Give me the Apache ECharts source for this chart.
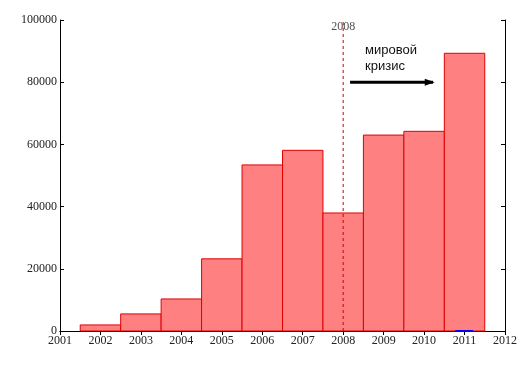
<!DOCTYPE html>
<html>
<head>
<meta charset="utf-8">
<script src="https://cdn.jsdelivr.net/npm/echarts@6/dist/echarts.min.js"></script>
<style>html,body{margin:0;padding:0;background:#fff}#c{width:530px;height:367px}</style>
</head>
<body>
<div id="c"></div>
<script>
const years = [2002, 2003, 2004, 2005, 2006, 2007, 2008, 2009, 2010, 2011];
const values = [1950, 5500, 10300, 23200, 53400, 58100, 37950, 63000, 64200, 89300];
const crisisYear = 2008;
const crisisLabel = '2008';
const crisisText = 'мировой\nкризис';
const arrowX = [2008.17, 2010.22];
const arrowY = 80000;
const blueX = [2010.77, 2011.21];

const chart = echarts.init(document.getElementById('c'), null, {renderer: 'canvas'});
const serif = 'Liberation Serif';
const plain = v => String(v);
const axisCommon = {
  min: 2001, max: 2012, interval: 1, type: 'value',
  axisLine: {show: true, lineStyle: {color: '#000', width: 1}},
  splitLine: {show: false}
};
const yCommon = {
  type: 'value', min: 0, max: 100000, interval: 20000,
  axisLine: {show: true, lineStyle: {color: '#000', width: 1}},
  splitLine: {show: false}
};
chart.setOption({
  animation: false,
  grid: {left: 60, right: 25, top: 20, bottom: 36},
  xAxis: [
    Object.assign({}, axisCommon, {
      position: 'bottom',
      axisTick: {show: false},
      axisLabel: {color: '#222', fontFamily: serif, fontSize: 12, margin: 4, formatter: plain}
    }),
    Object.assign({}, axisCommon, {
      position: 'top',
      axisTick: {show: true, inside: true, length: 4, lineStyle: {color: '#000'}},
      axisLabel: {show: false}
    })
  ],
  yAxis: [
    Object.assign({}, yCommon, {
      position: 'left',
      axisTick: {show: true, inside: true, length: 4, lineStyle: {color: '#000'}},
      axisLabel: {color: '#222', fontFamily: serif, fontSize: 12, margin: 3, formatter: plain}
    }),
    Object.assign({}, yCommon, {
      position: 'right',
      axisTick: {show: true, inside: true, length: 4, lineStyle: {color: '#000'}},
      axisLabel: {show: false}
    })
  ],
  series: [
    {
      type: 'custom',
      data: years.map((y, i) => [y, values[i]]),
      renderItem: function (params, api) {
        const p0 = api.coord([api.value(0) - 0.5, api.value(1)]);
        const p1 = api.coord([api.value(0) + 0.5, 0]);
        return {
          type: 'rect',
          shape: {x: p0[0], y: p0[1], width: p1[0] - p0[0], height: p1[1] - p0[1]},
          style: {fill: '#ff8080', stroke: '#e00000', lineWidth: 1}
        };
      }
    },
    {
      type: 'line',
      data: [[crisisYear, 0], [crisisYear, 100000]],
      symbol: 'none',
      lineStyle: {color: '#cc0000', type: [3, 3], width: 1},
      z: 4
    },
    {
      type: 'line',
      data: [[arrowX[0], arrowY], [arrowX[1], arrowY]],
      symbol: 'none',
      lineStyle: {color: '#000', width: 3},
      markPoint: {
        symbol: 'triangle', symbolSize: [7, 10], symbolRotate: -90,
        itemStyle: {color: '#000'}, label: {show: false},
        data: [{coord: [arrowX[1] - 0.08, arrowY]}]
      },
      z: 5
    },
    {
      type: 'line',
      data: [[blueX[0], 0], [blueX[1], 0]],
      symbol: 'none',
      lineStyle: {color: '#0000ff', width: 2},
      z: 6
    },
    {
      type: 'scatter',
      data: [[crisisYear, 97700]],
      symbolSize: 0,
      label: {show: true, position: 'inside', formatter: crisisLabel, color: '#222', fontFamily: serif, fontSize: 12}
    }
  ],
  graphic: [
    {
      type: 'text', left: 365, top: 42,
      style: {text: crisisText, font: '13px "Liberation Sans"', fill: '#111', lineHeight: 16}
    }
  ]
});
</script>
</body>
</html>
